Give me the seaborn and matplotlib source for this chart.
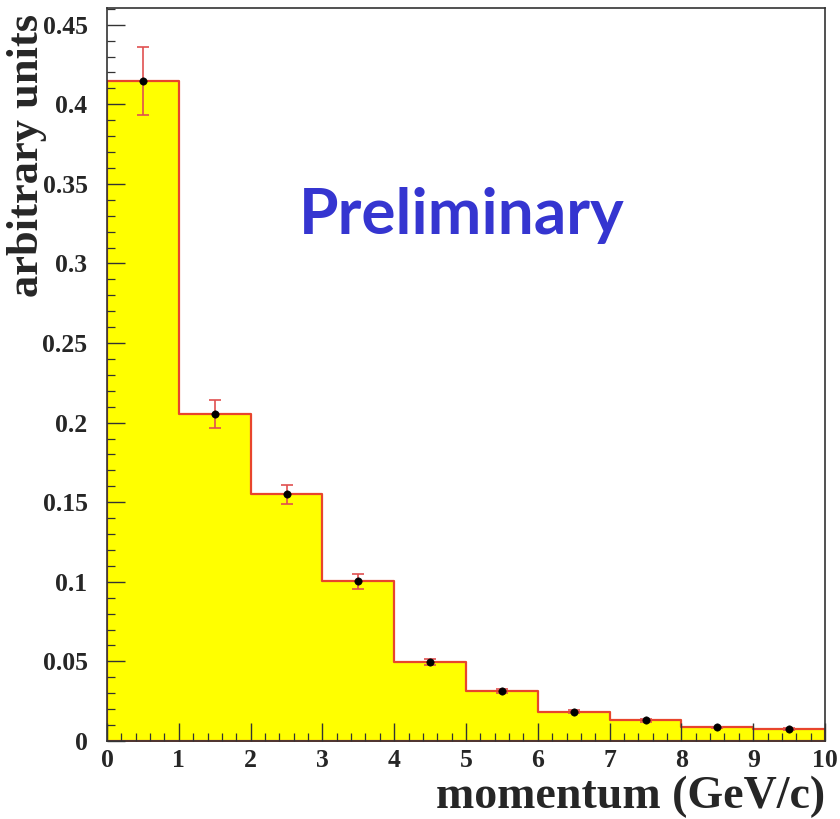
import numpy as np
import pandas as pd
import matplotlib
matplotlib.use("Agg")
import matplotlib.pyplot as plt
from matplotlib.ticker import MultipleLocator, FixedLocator
import seaborn as sns

# ---- data ----
bin_edges = [0, 1, 2, 3, 4, 5, 6, 7, 8, 9, 10]
bin_centers = [0.5, 1.5, 2.5, 3.5, 4.5, 5.5, 6.5, 7.5, 8.5, 9.5]
values = [0.4145, 0.2054, 0.1550, 0.1005, 0.0496, 0.0314, 0.0184, 0.0130, 0.0085, 0.0075]
errors = [0.0215, 0.0088, 0.0060, 0.0047, 0.0020, 0.0012, 0.0009, 0.0008, 0.0006, 0.0006]
xticks = [0, 1, 2, 3, 4, 5, 6, 7, 8, 9, 10]
yticks = [0, 0.05, 0.1, 0.15, 0.2, 0.25, 0.3, 0.35, 0.4, 0.45]
ytick_labels = ["0", "0.05", "0.1", "0.15", "0.2", "0.25", "0.3", "0.35", "0.4", "0.45"]

df = pd.DataFrame({"momentum": bin_centers, "value": values, "err": errors})

sns.set_style("ticks")
plt.rcParams["font.family"] = ["Liberation Serif", "DejaVu Serif"]

fig = plt.figure(figsize=(8.4, 8.19), dpi=100)
ax = fig.add_axes([107 / 840, 1 - 741 / 819, (825 - 107) / 840, (741 - 8) / 819])
ax.set_axisbelow(False)

sns.histplot(data=df, x="momentum", weights="value", bins=bin_edges,
             element="step", fill=True, color="#ffff00", alpha=1.0,
             edgecolor="#e8452c", linewidth=1.6, ax=ax, zorder=1)

ax.errorbar(df["momentum"], df["value"], yerr=df["err"], fmt="none",
            ecolor="#e05050", elinewidth=1.2, capsize=4, capthick=1.2, zorder=4)
sns.scatterplot(data=df, x="momentum", y="value", color="black", s=28,
                edgecolor="black", zorder=5, ax=ax)

ax.set_xlim(0, 10)
ax.set_ylim(0, 0.4605)
ax.xaxis.set_major_locator(FixedLocator(xticks))
ax.xaxis.set_minor_locator(MultipleLocator(0.2))
ax.yaxis.set_major_locator(FixedLocator(yticks))
ax.yaxis.set_minor_locator(MultipleLocator(0.01))
ax.set_xticklabels([str(t) for t in xticks])
ax.set_yticklabels(ytick_labels)

ax.tick_params(which="major", direction="in", length=13, width=1.0, color="#333333",
               top=False, right=False, labelsize=18.5)
ax.tick_params(axis="x", which="major", pad=6)
ax.tick_params(axis="y", which="major", pad=14)
ax.tick_params(which="minor", direction="in", length=6, width=0.9, color="#333333",
               top=False, right=False)
for lab in ax.get_xticklabels() + ax.get_yticklabels():
    lab.set_fontweight("bold")
for s in ax.spines.values():
    s.set_color("#333333")
    s.set_linewidth(1.2)

ax.set_xlabel("")
ax.set_ylabel("")
fig.text(825 / 840, 1 - 797 / 819, "momentum (GeV/c)", ha="right", va="center",
         fontsize=33, fontweight="bold")
fig.text(27 / 840, 1 - 155 / 819, "arbitrary units", ha="center", va="center",
         rotation=90, fontsize=32, fontweight="bold")

fig.text(462 / 840, 1 - 216 / 819, "Preliminary", ha="center", va="center",
         fontsize=46, fontweight="bold", color="#3535d0", family=["Lato", "DejaVu Sans"])

fig.savefig("out.png", dpi=100)
